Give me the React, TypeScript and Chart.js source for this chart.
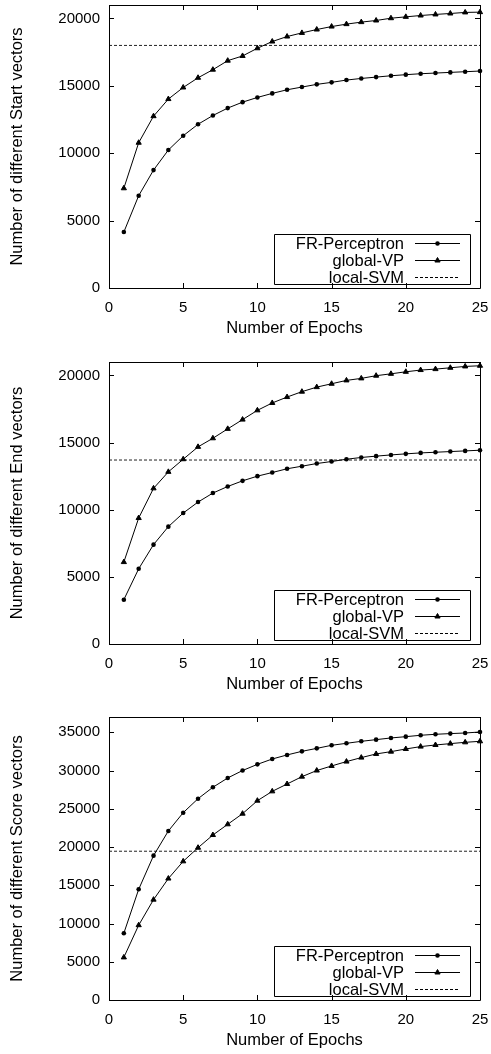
import React, { useEffect, useRef } from "react";
import { Chart, registerables } from "chart.js";

Chart.register(...registerables);

// ---------- data ----------
const EPOCHS = [1, 2, 3, 4, 5, 6, 7, 8, 9, 10, 11, 12, 13, 14, 15, 16, 17, 18, 19, 20, 21, 22, 23, 24, 25];
const X_TICKS = [0, 5, 10, 15, 20, 25];
const SERIES_LABELS = ["FR-Perceptron", "global-VP", "local-SVM"];

const START_FR = [4150, 6850, 8750, 10240, 11300, 12150, 12800, 13350, 13790, 14140, 14440, 14710, 14910, 15110, 15260, 15430, 15550, 15650, 15750, 15830, 15900, 15950, 16000, 16050, 16100];
const START_VP = [7400, 10780, 12750, 14020, 14880, 15600, 16200, 16870, 17220, 17790, 18290, 18660, 18930, 19180, 19400, 19580, 19730, 19850, 20020, 20120, 20220, 20300, 20370, 20450, 20470];
const START_SVM = 18000;
const START_Y_TICKS = [0, 5000, 10000, 15000, 20000];

const END_FR = [3300, 5600, 7400, 8740, 9750, 10570, 11240, 11730, 12150, 12500, 12770, 13050, 13240, 13440, 13590, 13760, 13890, 13990, 14080, 14160, 14230, 14280, 14330, 14380, 14430];
const END_VP = [6100, 9380, 11590, 12820, 13760, 14680, 15320, 16020, 16710, 17400, 17950, 18390, 18790, 19130, 19380, 19630, 19780, 19980, 20120, 20270, 20400, 20470, 20570, 20670, 20720];
const END_SVM = 13700;
const END_Y_TICKS = [0, 5000, 10000, 15000, 20000];

const SCORE_FR = [8730, 14470, 18870, 22100, 24490, 26320, 27810, 29030, 30000, 30810, 31510, 32040, 32510, 32900, 33300, 33560, 33820, 34040, 34260, 34430, 34610, 34740, 34830, 34910, 35040];
const SCORE_VP = [5570, 9780, 13120, 15880, 18130, 19910, 21570, 22970, 24360, 26060, 27280, 28240, 29200, 30000, 30600, 31170, 31690, 32170, 32470, 32820, 33130, 33340, 33520, 33690, 33820];
const SCORE_SVM = 19450;
const SCORE_Y_TICKS = [0, 5000, 10000, 15000, 20000, 25000, 30000, 35000];

// ---------- styling ----------
const FONT = "'Liberation Sans', Arial, Helvetica, sans-serif";
const TICK_SIZE = 15;
const TITLE_SIZE = 16.5;
const TITLE_LH = TITLE_SIZE * 1.2;
const CIRCLE_R = 2.3;
const TRI_R = 3;

type Spec = {
  top: number;
  height: number;
  padTop: number;
  plotBottom: number;
  yTitle: string;
  yTicks: number[];
  yMax: number;
  fr: number[];
  vp: number[];
  svm: number;
};

const SPECS: Spec[] = [
  { top: 0, height: 350, padTop: 5, plotBottom: 288, yTitle: "Number of different Start vectors", yTicks: START_Y_TICKS, yMax: 21000, fr: START_FR, vp: START_VP, svm: START_SVM },
  { top: 350, height: 355, padTop: 12, plotBottom: 294, yTitle: "Number of different End vectors", yTicks: END_Y_TICKS, yMax: 21000, fr: END_FR, vp: END_VP, svm: END_SVM },
  { top: 705, height: 349, padTop: 12, plotBottom: 295, yTitle: "Number of different Score vectors", yTicks: SCORE_Y_TICKS, yMax: 37000, fr: SCORE_FR, vp: SCORE_VP, svm: SCORE_SVM },
];

const framePlugin = {
  id: "gnuFrame",
  afterDraw(chart: any) {
    const { ctx, chartArea } = chart;
    const { left, right, top, bottom } = chartArea;
    const xs = chart.scales.x;
    const ys = chart.scales.y;
    const TL = 5;
    ctx.save();
    ctx.strokeStyle = "#000";
    ctx.lineWidth = 1;
    ctx.setLineDash([]);
    ctx.beginPath();
    ctx.rect(Math.round(left) + 0.5, Math.round(top) + 0.5, Math.round(right - left), Math.round(bottom - top));
    ctx.stroke();
    ctx.beginPath();
    for (const t of X_TICKS) {
      const px = Math.round(xs.getPixelForValue(t)) + 0.5;
      ctx.moveTo(px, bottom);
      ctx.lineTo(px, bottom - TL);
      ctx.moveTo(px, top);
      ctx.lineTo(px, top + TL);
    }
    for (const t of ys.ticks.map((k: any) => k.value)) {
      const py = Math.round(ys.getPixelForValue(t)) + 0.5;
      ctx.moveTo(left, py);
      ctx.lineTo(left + TL, py);
      ctx.moveTo(right, py);
      ctx.lineTo(right - TL, py);
    }
    ctx.stroke();

    // legend box (gnuplot style, bottom right inside plot)
    const br = Math.round(right) - 10;
    const bb = Math.round(bottom) - 4;
    const bw = 196;
    const bh = 50;
    const bl = br - bw;
    const bt = bb - bh;
    ctx.beginPath();
    ctx.rect(bl + 0.5, bt + 0.5, bw, bh);
    ctx.stroke();
    ctx.font = `${TITLE_SIZE}px ${FONT}`;
    ctx.fillStyle = "#000";
    ctx.textAlign = "right";
    ctx.textBaseline = "middle";
    const rows = [bt + 9, bt + 26, bt + 43];
    const l0 = br - 55;
    const l1 = br - 10;
    const mx = (l0 + l1) / 2;
    SERIES_LABELS.forEach((lab, i) => {
      const y = rows[i];
      ctx.fillText(lab, br - 66, y + 1);
      const yy = Math.round(y) + 0.5;
      ctx.beginPath();
      ctx.setLineDash(i === 2 ? [3, 2] : []);
      ctx.moveTo(l0, yy);
      ctx.lineTo(l1, yy);
      ctx.stroke();
      ctx.setLineDash([]);
      if (i === 0) {
        ctx.beginPath();
        ctx.arc(mx, yy, CIRCLE_R, 0, Math.PI * 2);
        ctx.fill();
      } else if (i === 1) {
        ctx.beginPath();
        ctx.moveTo(mx, yy - TRI_R);
        ctx.lineTo(mx + TRI_R * 0.87, yy + TRI_R * 0.5);
        ctx.lineTo(mx - TRI_R * 0.87, yy + TRI_R * 0.5);
        ctx.closePath();
        ctx.fill();
        ctx.stroke();
      }
    });
    ctx.restore();
  },
};

function makeConfig(spec: Spec): any {
  const pts = (arr: number[]) => EPOCHS.map((e, i) => ({ x: e, y: arr[i] }));
  const xTitlePadBottom = Math.max(0, spec.height - spec.plotBottom - 40 - TITLE_LH / 2);
  return {
    type: "line",
    data: {
      datasets: [
        {
          label: SERIES_LABELS[0],
          data: pts(spec.fr),
          borderColor: "#000",
          borderWidth: 1,
          pointStyle: "circle",
          pointRadius: CIRCLE_R,
          pointBackgroundColor: "#000",
          pointBorderWidth: 0,
          tension: 0,
          clip: false,
        },
        {
          label: SERIES_LABELS[1],
          data: pts(spec.vp),
          borderColor: "#000",
          borderWidth: 1,
          pointStyle: "triangle",
          pointRadius: TRI_R,
          pointBackgroundColor: "#000",
          pointBorderColor: "#000",
          pointBorderWidth: 1,
          tension: 0,
          clip: false,
        },
        {
          label: SERIES_LABELS[2],
          data: [
            { x: X_TICKS[0], y: spec.svm },
            { x: X_TICKS[X_TICKS.length - 1], y: spec.svm },
          ],
          borderColor: "#222",
          borderWidth: 1,
          borderDash: [3, 2],
          pointRadius: 0,
          tension: 0,
        },
      ],
    },
    options: {
      responsive: false,
      animation: false,
      devicePixelRatio: 1,
      layout: { padding: { top: spec.padTop, left: 0, right: 11, bottom: 0 } },
      plugins: { legend: { display: false }, tooltip: { enabled: false }, title: { display: false } },
      scales: {
        x: {
          type: "linear",
          min: X_TICKS[0],
          max: X_TICKS[X_TICKS.length - 1],
          grid: { display: false, drawTicks: false },
          border: { display: false },
          afterBuildTicks: (s: any) => {
            s.ticks = X_TICKS.map((v) => ({ value: v }));
          },
          afterFit: (s: any) => {
            s.height = spec.height - spec.plotBottom;
            s.paddingLeft = 0;
            s.paddingRight = 0;
            s.paddingTop = 0;
            s.paddingBottom = 0;
          },
          ticks: {
            color: "#000",
            padding: 11,
            maxRotation: 0,
            callback: (v: any) => String(v),
            font: { family: FONT, size: TICK_SIZE },
          },
          title: {
            display: true,
            text: "Number of Epochs",
            color: "#000",
            padding: { top: 0, bottom: xTitlePadBottom },
            font: { family: FONT, size: TITLE_SIZE },
          },
        },
        y: {
          type: "linear",
          min: 0,
          max: spec.yMax,
          grid: { display: false, drawTicks: false },
          border: { display: false },
          afterBuildTicks: (s: any) => {
            s.ticks = spec.yTicks.map((v) => ({ value: v }));
          },
          afterFit: (s: any) => {
            s.width = 109;
            s.paddingLeft = 0;
            s.paddingRight = 0;
            s.paddingTop = 0;
            s.paddingBottom = 0;
          },
          ticks: {
            color: "#000",
            padding: 9,
            callback: (v: any) => String(v),
            font: { family: FONT, size: TICK_SIZE },
          },
          title: {
            display: true,
            text: spec.yTitle,
            color: "#000",
            padding: { top: 8, bottom: 0 },
            font: { family: FONT, size: TITLE_SIZE },
          },
        },
      },
    },
    plugins: [framePlugin],
  };
}

function Panel({ spec }: { spec: Spec }) {
  const ref = useRef<HTMLCanvasElement | null>(null);
  useEffect(() => {
    if (!ref.current) return;
    const chart = new Chart(ref.current, makeConfig(spec));
    return () => chart.destroy();
  }, [spec]);
  return (
    <div style={{ position: "absolute", left: 0, top: spec.top, width: 491, height: spec.height }}>
      <canvas ref={ref} width={491} height={spec.height} style={{ width: 491, height: spec.height, display: "block" }} />
    </div>
  );
}

export default function App() {
  return (
    <div style={{ position: "absolute", left: 0, top: 0, width: 491, height: 1054, background: "#fff" }}>
      {SPECS.map((s, i) => (
        <Panel key={i} spec={s} />
      ))}
    </div>
  );
}
